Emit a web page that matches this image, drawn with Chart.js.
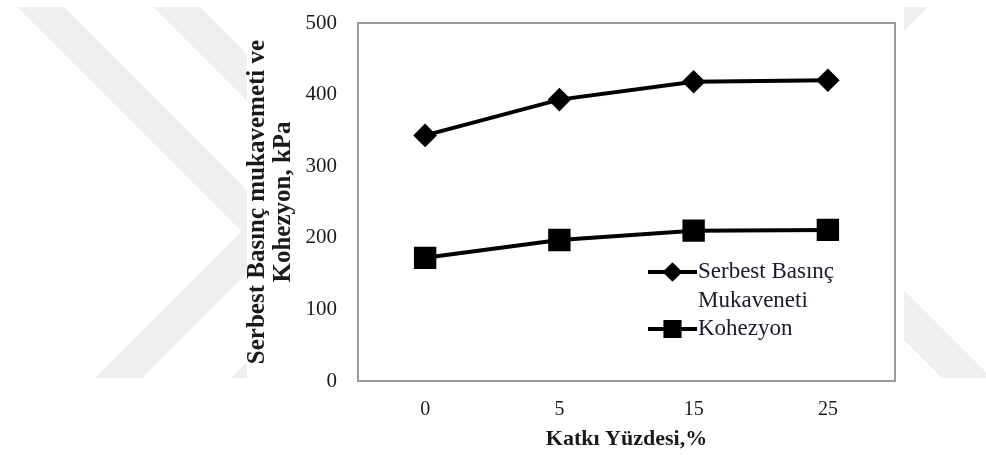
<!DOCTYPE html>
<html>
<head>
<meta charset="utf-8">
<script src="https://cdn.jsdelivr.net/npm/chart.js@4.4.1/dist/chart.umd.min.js"></script>
<style>
  html, body { margin: 0; padding: 0; background: #ffffff; }
  #wrap { width: 986px; height: 455px; }
</style>
</head>
<body>
<div id="wrap"><canvas id="chart"></canvas></div>
<script>
const categories = ['0', '5', '15', '25'];
const serbestValues = [343, 393, 418, 420];
const kohezyonValues = [172, 197, 210, 211];
const seriesNames = ['Serbest Basınç Mukaveneti', 'Kohezyon'];
const legendLines = [['Serbest Basınç', 'Mukaveneti'], ['Kohezyon']];
const yTitle = ['Serbest Basınç mukavemeti ve', 'Kohezyon, kPa'];
const xTitle = 'Katkı Yüzdesi,%';

const serif = '"Liberation Serif", "Times New Roman", serif';

// faint watermark chevrons behind the figure
const watermark = {
  id: 'watermark',
  beforeDraw(chart) {
    const ctx = chart.ctx;
    ctx.save();
    ctx.fillStyle = '#ffffff';
    ctx.fillRect(0, 0, chart.width, chart.height);
    ctx.beginPath();
    ctx.rect(0, 7, 247, 371);
    ctx.rect(904, 7, 90, 371);
    ctx.clip();
    ctx.fillStyle = '#efefef';
    const shapes = [
      [[17, 7], [64, 7], [288.5, 231.5], [142, 378], [95, 378], [241.5, 231.5]],
      [[153, 7], [200, 7], [424.5, 231.5], [278, 378], [231, 378], [377.5, 231.5]],
      [[881, 7], [928, 7], [557, 378], [510, 378]],
      [[571, 7], [621, 7], [992, 378], [942, 378]]
    ];
    shapes.forEach(pts => {
      ctx.beginPath();
      pts.forEach((p, i) => i ? ctx.lineTo(p[0], p[1]) : ctx.moveTo(p[0], p[1]));
      ctx.closePath();
      ctx.fill();
    });
    ctx.restore();
  }
};

// grey frame round the plot area
const frame = {
  id: 'frame',
  beforeDatasetsDraw(chart) {
    const a = chart.chartArea;
    const ctx = chart.ctx;
    ctx.save();
    ctx.strokeStyle = '#9a9a9a';
    ctx.lineWidth = 2;
    ctx.strokeRect(a.left, a.top, a.right - a.left, a.bottom - a.top);
    ctx.restore();
  }
};

// legend inside the plot, drawn with the datasets' own styles
const innerLegend = {
  id: 'innerLegend',
  afterDatasetsDraw(chart) {
    const a = chart.chartArea;
    const ctx = chart.ctx;
    const x0 = a.left + 290, x1 = a.left + 339;
    const rows = [a.top + 249, a.top + 306];
    const radii = [7, 10];
    ctx.save();
    chart.data.datasets.forEach((ds, i) => {
      const y = rows[i];
      ctx.strokeStyle = ds.borderColor;
      ctx.lineWidth = ds.borderWidth;
      ctx.beginPath();
      ctx.moveTo(x0, y);
      ctx.lineTo(x1, y);
      ctx.stroke();
      ctx.fillStyle = ds.pointBackgroundColor;
      ctx.strokeStyle = ds.pointBorderColor;
      Chart.helpers.drawPoint(ctx, {pointStyle: ds.pointStyle, radius: radii[i], rotation: 0, borderWidth: 1}, (x0 + x1) / 2, y);
      ctx.fillStyle = '#1a1a2e';
      ctx.font = '23px ' + serif;
      ctx.textBaseline = 'middle';
      ctx.textAlign = 'left';
      legendLines[i].forEach((t, k) => ctx.fillText(t, x1 + 1, y + k * 29));
    });
    ctx.restore();
  }
};

new Chart(document.getElementById('chart'), {
  type: 'line',
  data: {
    labels: categories,
    datasets: [{
      label: seriesNames[0],
      data: serbestValues,
      borderColor: '#000000',
      borderWidth: 4,
      pointStyle: 'rectRot',
      pointRadius: 9,
      pointBackgroundColor: '#000000',
      pointBorderColor: '#000000',
      tension: 0
    }, {
      label: seriesNames[1],
      data: kohezyonValues,
      borderColor: '#000000',
      borderWidth: 4,
      pointStyle: 'rect',
      pointRadius: 13,
      pointBackgroundColor: '#000000',
      pointBorderColor: '#000000',
      tension: 0
    }]
  },
  options: {
    responsive: true,
    maintainAspectRatio: false,
    animation: false,
    layout: { padding: { left: 0, right: 91, top: 23, bottom: 0 } },
    plugins: {
      legend: { display: false },
      tooltip: { enabled: false }
    },
    scales: {
      x: {
        offset: true,
        grid: { display: false, drawTicks: false },
        border: { display: false },
        ticks: { color: '#1a1a1a', padding: 17, font: { family: serif, size: 20 } },
        title: {
          display: true,
          text: xTitle,
          color: '#1a1a1a',
          padding: { top: 0, bottom: 2 },
          font: { family: serif, size: 22, weight: 'bold' }
        },
        afterFit(scale) { scale.height = 74; }
      },
      y: {
        min: 0,
        max: 500,
        grid: { display: false, drawTicks: false },
        border: { display: false },
        ticks: { stepSize: 100, color: '#1a1a1a', padding: 21, font: { family: serif, size: 21 } },
        title: {
          display: true,
          text: yTitle,
          color: '#1a1a1a',
          padding: { top: 244, bottom: 0 },
          font: { family: serif, size: 25, weight: 'bold', lineHeight: 1.05 }
        },
        afterFit(scale) {
          scale.width = 358;
          scale.paddingTop = 0;
          scale.paddingBottom = 0;
        }
      }
    }
  },
  plugins: [watermark, frame, innerLegend]
});
</script>
</body>
</html>
